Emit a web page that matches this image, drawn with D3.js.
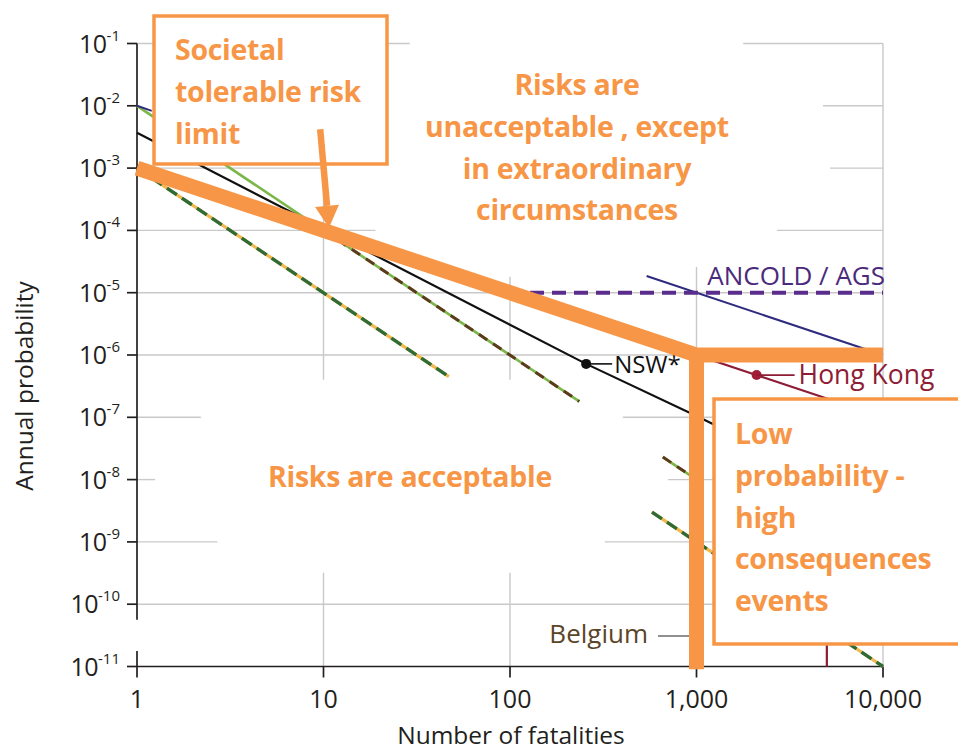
<!DOCTYPE html>
<html><head><meta charset="utf-8">
<script src="https://cdn.jsdelivr.net/npm/d3@7"></script>
<style>body{margin:0;background:#fff;} svg{display:block}</style>
</head><body>
<svg id="c" width="958" height="753"></svg>
<script>
// ---------------- DATA ----------------
const xTicks = [1, 10, 100, 1000, 10000];
const xTickLabels = ["1", "10", "100", "1,000", "10,000"];
const yTickExps = [-1, -2, -3, -4, -5, -6, -7, -8, -9, -10, -11];

// ANCOLD / AGS sloping limit (visible pieces) [N, P]
const ancoldSlopeA = [[1, 1e-2], [1.2, 8.3e-3]];
const ancoldSlopeB = [[540, 1.85e-5], [10000, 1e-6]];
// ANCOLD / AGS horizontal dashed limit
const ancoldFlat = [[128, 1e-5], [10000, 1e-5]];
// green line with brown dashes (Belgium)
const greenA = [[1, 1e-2], [235, 1.8e-7]];
const greenB = [[660, 2.3e-8], [1000, 1e-8]];
const belgiumA = [[10, 1e-4], [235, 1.8e-7]];
const belgiumB = [[660, 2.3e-8], [1000, 1e-8]];
// orange line with dark green dashes
const yellowGreenA = [[1, 1e-3], [47, 4.5e-7]];
const yellowGreenB = [[577, 3e-9], [10000, 1e-11]];
// NSW* line
const nsw = [[1, 3.7e-3], [256, 7.2e-7], [1000, 1.05e-7], [2000, 3.8e-8]];
const nswPoint = [256, 7.2e-7];
// Hong Kong line
const hongKong = [[1, 1e-3], [5000, 2e-7], [5000, 1e-11]];
const hongKongPoint = [2100, 4.76e-7];
// Societal tolerable risk limit (thick orange)
const societal = [[1, 1e-3], [1000, 1e-6], [10000, 1e-6]];
const societalVertical = [[1000, 1e-6], [1000, 9e-12]];
// arrow pointing at limit
const arrowFrom = [9.6, 4.2e-3];
const arrowTo = [10.7, 1.1e-4];

// gridline pieces (horizontal: exponent, [N from, N to]) (vertical: N, [P from, P to])
const hGrid = [
  [-1, [[1, 29], [1780, 10000]]],
  [-2, [[4770, 10000]]],
  [-3, [[1, 10], [5200, 10000]]],
  [-4, [[1, 19], [2700, 10000]]],
  [-5, [[1, 10000]]],
  [-6, [[1, 10000]]],
  [-7, [[1, 2.2], [403, 10000]]],
  [-8, [[1, 1.25], [703, 10000]]],
  [-9, [[1, 2.7], [322, 10000]]],
  [-10, [[1, 10000]]]
];
const vGrid = [
  [10, [[1e-1, 4e-7], [3.2e-10, 1e-11]]],
  [100, [[1.8e-5, 4e-7], [3.2e-10, 1e-11]]],
  [1000, [[2.6e-5, 1e-6]]],
  [10000, [[1e-1, 1e-11]]]
];
const axisBreak = [10 ** -10.25, 10 ** -10.75];

const boxTopText = ["Societal", "tolerable risk", "limit"];
const unacceptText = ["Risks are", "unacceptable , except", "in extraordinary", "circumstances"];
const acceptText = "Risks are acceptable";
const lowProbText = ["Low", "probability -", "high", "consequences", "events"];

// ---------------- DRAW ----------------
const svg = d3.select("#c");
const x = d3.scaleLog().domain([1, 10000]).range([137, 883]);
const y = d3.scaleLog().domain([1e-11, 1e-1]).range([666.5, 43.5]);
const line = d3.line().x(d => x(d[0])).y(d => y(d[1]));

const ORANGE = "#f79646";
const axisFont = "'Open Sans', sans-serif";
const boldFont = "'Open Sans', sans-serif";

// grid
const g = svg.append("g").attr("stroke", "#c9c9c9").attr("stroke-width", 1.4);
hGrid.forEach(([e, segs]) => segs.forEach(s => {
  g.append("line").attr("x1", x(s[0])).attr("x2", x(s[1]))
   .attr("y1", y(10 ** e)).attr("y2", y(10 ** e));
}));
vGrid.forEach(([n, segs]) => segs.forEach(s => {
  g.append("line").attr("x1", x(n)).attr("x2", x(n))
   .attr("y1", y(s[0])).attr("y2", y(s[1]));
}));

// axes
const ax = svg.append("g").attr("stroke", "#231f20").attr("stroke-width", 1.7).attr("fill", "none");
ax.append("line").attr("x1", x(1)).attr("x2", x(1)).attr("y1", y(1e-1)).attr("y2", y(axisBreak[0]));
ax.append("line").attr("x1", x(1)).attr("x2", x(1)).attr("y1", y(axisBreak[1])).attr("y2", y(1e-11));
ax.append("line").attr("x1", x(1)).attr("x2", x(10000)).attr("y1", y(1e-11)).attr("y2", y(1e-11));
yTickExps.forEach(e => ax.append("line").attr("x1", x(1) - 10).attr("x2", x(1)).attr("y1", y(10 ** e)).attr("y2", y(10 ** e)));
xTicks.forEach(t => ax.append("line").attr("x1", x(t)).attr("x2", x(t)).attr("y1", y(1e-11)).attr("y2", y(1e-11) + 11));

// y tick labels
yTickExps.forEach(e => {
  const t = svg.append("text").attr("x", x(1) - 17).attr("y", y(10 ** e) + 9)
    .attr("text-anchor", "end").attr("font-family", axisFont).attr("font-size", 25).attr("fill", "#231f20");
  t.append("tspan").attr("letter-spacing", -0.5).text("10");
  t.append("tspan").attr("font-size", 15).attr("dy", -12).text(String(e));
});
// x tick labels
xTicks.forEach((t, i) => {
  svg.append("text").attr("x", x(t)).attr("y", y(1e-11) + 41).attr("text-anchor", "middle")
    .attr("font-family", axisFont).attr("font-size", 25).attr("fill", "#231f20").text(xTickLabels[i]);
});
// axis titles
svg.append("text").attr("x", 511).attr("y", 744).attr("text-anchor", "middle")
  .attr("font-family", axisFont).attr("font-size", 24.5).attr("fill", "#231f20").text("Number of fatalities");
svg.append("text").attr("transform", "translate(33,386) rotate(-90)").attr("text-anchor", "middle")
  .attr("font-family", axisFont).attr("font-size", 24.5).attr("fill", "#231f20").text("Annual probability");

// series
const path = (d, color, w, dash) => svg.append("path").attr("d", line(d)).attr("fill", "none")
  .attr("stroke", color).attr("stroke-width", w).attr("stroke-dasharray", dash || null);

[greenA, greenB].forEach(d => path(d, "#7ab648", 2.6));
[belgiumA, belgiumB].forEach(d => path(d, "#5b3b1c", 3, "10,7"));
[yellowGreenA, yellowGreenB].forEach(d => path(d, "#f2b84b", 3.2));
[yellowGreenA, yellowGreenB].forEach(d => path(d, "#2f6b35", 3.4, "12,6"));
path(nsw, "#111", 2.2);
path(hongKong, "#8e1c35", 2.2);
[ancoldSlopeA, ancoldSlopeB].forEach(d => path(d, "#2e2b7f", 2));
path(ancoldFlat, "#5a2d8c", 4, "14,8");

// NSW point & label
svg.append("circle").attr("cx", x(nswPoint[0])).attr("cy", y(nswPoint[1])).attr("r", 5).attr("fill", "#111");
svg.append("line").attr("x1", x(nswPoint[0])).attr("x2", x(nswPoint[0]) + 26)
  .attr("y1", y(nswPoint[1])).attr("y2", y(nswPoint[1])).attr("stroke", "#111").attr("stroke-width", 1.6);
svg.append("text").attr("x", x(nswPoint[0]) + 28).attr("y", y(nswPoint[1]) + 9)
  .attr("font-family", axisFont).attr("font-size", 24).attr("fill", "#111").text("NSW*");
// Hong Kong point & label
svg.append("circle").attr("cx", x(hongKongPoint[0])).attr("cy", y(hongKongPoint[1])).attr("r", 5).attr("fill", "#a01d35");
svg.append("line").attr("x1", x(hongKongPoint[0])).attr("x2", x(hongKongPoint[0]) + 38)
  .attr("y1", y(hongKongPoint[1])).attr("y2", y(hongKongPoint[1])).attr("stroke", "#8e1c35").attr("stroke-width", 1.6);
svg.append("text").attr("x", x(hongKongPoint[0]) + 42).attr("y", y(hongKongPoint[1]) + 9)
  .attr("font-family", axisFont).attr("font-size", 26.5).attr("fill", "#8e1c35").text("Hong Kong");
// ANCOLD label
svg.append("text").attr("x", x(10000) + 2).attr("y", y(1e-5) - 8).attr("text-anchor", "end")
  .attr("font-family", axisFont).attr("font-size", 26).attr("fill", "#4b2a7b").text("ANCOLD / AGS");
// Belgium label
svg.append("text").attr("x", 648).attr("y", 643).attr("text-anchor", "end")
  .attr("font-family", axisFont).attr("font-size", 26).attr("fill", "#5b4528").text("Belgium");
svg.append("line").attr("x1", 658).attr("x2", 689).attr("y1", 636).attr("y2", 636)
  .attr("stroke", "#6b6b6b").attr("stroke-width", 1.5);

// societal limit
svg.append("path").attr("d", line(societal)).attr("fill", "none").attr("stroke", ORANGE)
  .attr("stroke-width", 15).attr("stroke-linejoin", "miter").attr("stroke-linecap", "butt");
svg.append("path").attr("d", line(societalVertical)).attr("fill", "none").attr("stroke", ORANGE)
  .attr("stroke-width", 15);

// boxes
svg.append("rect").attr("x", 154).attr("y", 16).attr("width", 233).attr("height", 148)
  .attr("fill", "#fff").attr("stroke", ORANGE).attr("stroke-width", 3.5);
svg.append("rect").attr("x", 714).attr("y", 399).attr("width", 260).attr("height", 245)
  .attr("fill", "#fff").attr("stroke", ORANGE).attr("stroke-width", 3.5);

const block = (lines, x0, y0, anchor) => {
  lines.forEach((s, i) => svg.append("text").attr("x", x0).attr("y", y0 + i * 41.8)
    .attr("text-anchor", anchor).attr("font-family", boldFont).attr("font-weight", 700)
    .attr("font-size", 28.5).attr("letter-spacing", -0.3).attr("fill", ORANGE).text(s));
};
block(boxTopText, 175, 60, "start");
block(unacceptText, 577, 95, "middle");
block([acceptText], 410, 487, "middle");
block(lowProbText, 735, 444, "start");

// arrow
const ax1 = x(arrowFrom[0]), ay1 = y(arrowFrom[1]), ax2 = x(arrowTo[0]), ay2 = y(arrowTo[1]);
const ang = Math.atan2(ay2 - ay1, ax2 - ax1);
const headLen = 22, headW = 12;
const bx = ax2 - headLen * Math.cos(ang), by = ay2 - headLen * Math.sin(ang);
svg.append("line").attr("x1", ax1).attr("y1", ay1).attr("x2", bx).attr("y2", by)
  .attr("stroke", ORANGE).attr("stroke-width", 6.5);
const px = -Math.sin(ang), py = Math.cos(ang);
svg.append("path").attr("d", `M${ax2},${ay2}L${bx + px * headW},${by + py * headW}L${bx - px * headW},${by - py * headW}Z`)
  .attr("fill", ORANGE);
</script>
</body></html>
